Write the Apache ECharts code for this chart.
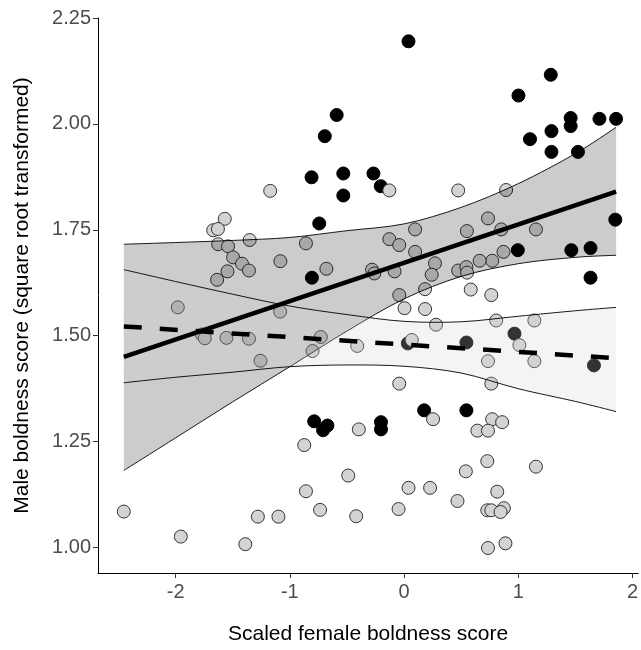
<!DOCTYPE html>
<html>
<head>
<meta charset="utf-8">
<script src="https://cdn.jsdelivr.net/npm/echarts@6/dist/echarts.min.js"></script>
<style>
html,body{margin:0;padding:0;background:#fff;}
#chart{width:641px;height:650px;}
</style>
</head>
<body>
<div id="chart"></div>
<script>
// ---- data ----
const xTicks = [-2, -1, 0, 1, 2];
const yTicks = [1.00, 1.25, 1.50, 1.75, 2.00, 2.25];

const blackPoints = [
  [0.039,2.195],[-0.590,2.021],[-0.694,1.971],[-0.810,1.874],[-0.532,1.883],[-0.268,1.883],
  [-0.532,1.831],[-0.204,1.853],[-0.743,1.765],[-0.807,1.637],[-0.787,1.298],[-0.709,1.277],
  [-0.671,1.288],[-0.202,1.296],[-0.202,1.279],[0.176,1.324],[0.546,1.324],[0.033,1.482],
  [0.546,1.484],[0.967,1.505],[1.663,1.430],[0.996,1.702],[1.465,1.702],[1.633,1.707],
  [1.850,1.774],[1.633,1.637],[1.285,2.116],[1.002,2.067],[1.459,2.014],[1.459,1.995],
  [1.711,2.012],[1.857,2.012],[1.291,1.983],[1.103,1.964],[1.291,1.934],[1.523,1.934]
];

const grayPoints = [
  [-1.570,1.776],[-1.671,1.749],[-1.630,1.752],[-1.628,1.716],[-1.541,1.711],[-1.352,1.726],
  [-1.497,1.685],[-1.419,1.670],[-1.358,1.654],[-1.546,1.652],[-1.637,1.632],[-1.083,1.676],
  [-0.859,1.718],[-0.680,1.658],[-0.280,1.656],[-0.260,1.647],[-1.981,1.567],[-1.085,1.557],
  [-1.770,1.503],[-1.745,1.494],[-1.555,1.495],[-1.358,1.493],[-1.257,1.441],[-0.729,1.497],
  [-0.801,1.464],[-0.410,1.476],[-0.396,1.279],[-0.874,1.242],[-0.489,1.170],[-1.172,1.842],
  [-0.129,1.843],[0.474,1.843],[-2.454,1.085],[-1.955,1.026],[-1.280,1.073],[-1.100,1.073],
  [-1.390,1.008],[-0.859,1.133],[-0.735,1.089],[-0.419,1.074],[-0.048,1.091],[0.039,1.141],
  [0.228,1.141],[0.541,1.180],[0.729,1.204],[1.155,1.191],[0.468,1.110],[0.816,1.132],
  [0.729,1.088],[0.764,1.088],[0.874,1.093],[0.845,1.084],[0.735,0.999],[0.888,1.010],
  [-0.129,1.728],[-0.042,1.714],[0.097,1.751],[0.097,1.698],[-0.083,1.652],[0.271,1.671],
  [0.242,1.644],[-0.042,1.596],[0.184,1.610],[0.004,1.565],[0.184,1.563],[0.280,1.526],
  [0.550,1.747],[0.735,1.777],[0.851,1.751],[1.155,1.751],[0.871,1.698],[0.772,1.677],
  [0.662,1.677],[0.474,1.654],[0.546,1.662],[0.552,1.649],[0.584,1.609],[0.764,1.596],
  [0.807,1.536],[1.141,1.536],[1.010,1.478],[1.141,1.440],[0.735,1.440],[0.068,1.490],
  [-0.042,1.387],[0.764,1.387],[0.254,1.303],[0.772,1.303],[0.859,1.296],[0.642,1.276],
  [0.735,1.276],[0.894,1.844]
];

const bandX      = [-2.454, -2.0, -1.5, -1.0, -0.5, 0.0, 0.5, 1.0, 1.5, 1.857];
const solidUpper = [1.716, 1.720, 1.725, 1.732, 1.748, 1.764, 1.803, 1.859, 1.930, 1.992];
const solidLower = [1.182, 1.259, 1.344, 1.427, 1.511, 1.587, 1.640, 1.670, 1.685, 1.690];
const dashUpper  = [1.656, 1.628, 1.598, 1.570, 1.550, 1.534, 1.533, 1.546, 1.559, 1.567];
const dashLower  = [1.389, 1.402, 1.414, 1.427, 1.431, 1.428, 1.412, 1.375, 1.345, 1.321];

const fitX     = [-2.454, 1.857];
const solidFit = [1.450, 1.840];
const dashFit  = [1.522, 1.447];

// ---- chart ----
const FONT = "'Liberation Sans', Arial, sans-serif";
const pairs = (xs, ys) => xs.map((x, i) => [x, ys[i]]);

// smooth path through already-projected pixel points (Catmull-Rom -> cubic Bezier)
function curveSegs(p) {
  let s = '';
  for (let i = 0; i < p.length - 1; i++) {
    const p0 = p[Math.max(i - 1, 0)], p1 = p[i], p2 = p[i + 1], p3 = p[Math.min(i + 2, p.length - 1)];
    const c1 = [p1[0] + (p2[0] - p0[0]) / 6, p1[1] + (p2[1] - p0[1]) / 6];
    const c2 = [p2[0] - (p3[0] - p1[0]) / 6, p2[1] - (p3[1] - p1[1]) / 6];
    s += ' C' + c1[0] + ',' + c1[1] + ' ' + c2[0] + ',' + c2[1] + ' ' + p2[0] + ',' + p2[1];
  }
  return s;
}

function bandSeries(name, lo, hi, fill, z) {
  return {
    name: name, type: 'custom', z: z, silent: true, clip: true,
    data: bandX.map((x, i) => [x, lo[i], hi[i]]),
    encode: { x: 0, y: [1, 2] },
    renderItem: function (params, api) {
      if (params.dataIndex !== bandX.length - 1) return null;
      const up = bandX.map((x, i) => api.coord([x, hi[i]]));
      const dn = bandX.map((x, i) => api.coord([x, lo[i]]));
      const dnRev = dn.slice().reverse();
      const fillPath = 'M' + up[0][0] + ',' + up[0][1] + curveSegs(up) +
        ' L' + dnRev[0][0] + ',' + dnRev[0][1] + curveSegs(dnRev) + ' Z';
      const upPath = 'M' + up[0][0] + ',' + up[0][1] + curveSegs(up);
      const dnPath = 'M' + dn[0][0] + ',' + dn[0][1] + curveSegs(dn);
      return {
        type: 'group',
        children: [
          { type: 'path', shape: { pathData: fillPath }, style: { fill: fill, stroke: null } },
          { type: 'path', shape: { pathData: upPath }, style: { fill: null, stroke: '#000', lineWidth: 0.9 } },
          { type: 'path', shape: { pathData: dnPath }, style: { fill: null, stroke: '#000', lineWidth: 0.9 } }
        ]
      };
    }
  };
}

const chart = echarts.init(document.getElementById('chart'), null, { renderer: 'canvas' });
chart.setOption({
  animation: false,
  backgroundColor: '#fff',
  grid: { left: 98, right: 0, top: 18, bottom: 68, containLabel: false },
  xAxis: {
    type: 'value', min: -2.68, max: 2.05,
    name: 'Scaled female boldness score', nameLocation: 'middle', nameGap: 51,
    nameTextStyle: { fontFamily: FONT, fontSize: 21, color: '#000' },
    axisLine: { show: true, onZero: false, lineStyle: { color: '#000', width: 1 } },
    axisTick: { show: true, length: 5, lineStyle: { color: '#333', width: 1 }, customValues: xTicks },
    axisLabel: { customValues: xTicks, fontFamily: FONT, fontSize: 20, color: '#4d4d4d', margin: 9,
      formatter: v => String(v) },
    splitLine: { show: false }
  },
  yAxis: {
    type: 'value', min: 0.94, max: 2.25,
    name: 'Male boldness score (square root transformed)', nameLocation: 'middle', nameGap: 65,
    nameTextStyle: { fontFamily: FONT, fontSize: 21, color: '#000' },
    axisLine: { show: true, onZero: false, lineStyle: { color: '#000', width: 1 } },
    axisTick: { show: true, length: 5, lineStyle: { color: '#333', width: 1 }, customValues: yTicks },
    axisLabel: { customValues: yTicks, fontFamily: FONT, fontSize: 20, color: '#4d4d4d', margin: 7,
      formatter: v => v.toFixed(2) },
    splitLine: { show: false }
  },
  series: [
    {
      name: 'black', type: 'scatter', data: blackPoints, symbolSize: 13, z: 1,
      itemStyle: { color: '#000', borderColor: '#000', borderWidth: 1, opacity: 1 }
    },
    {
      name: 'gray', type: 'scatter', data: grayPoints, symbolSize: 13, z: 2,
      itemStyle: { color: '#d3d3d3', borderColor: '#333', borderWidth: 1, opacity: 1 }
    },
    bandSeries('solidBand', solidLower, solidUpper, 'rgba(0,0,0,0.2)', 3),
    bandSeries('dashBand', dashLower, dashUpper, 'rgba(210,210,210,0.243)', 4),
    {
      name: 'solidFit', type: 'line', data: pairs(fitX, solidFit), symbol: 'none', z: 5,
      lineStyle: { color: '#000', width: 4.5, cap: 'butt' }, silent: true
    },
    {
      name: 'dashFit', type: 'line', data: pairs(fitX, dashFit), symbol: 'none', z: 5,
      lineStyle: { color: '#000', width: 4.5, type: [18, 18], cap: 'butt' }, silent: true
    }
  ]
});
</script>
</body>
</html>
